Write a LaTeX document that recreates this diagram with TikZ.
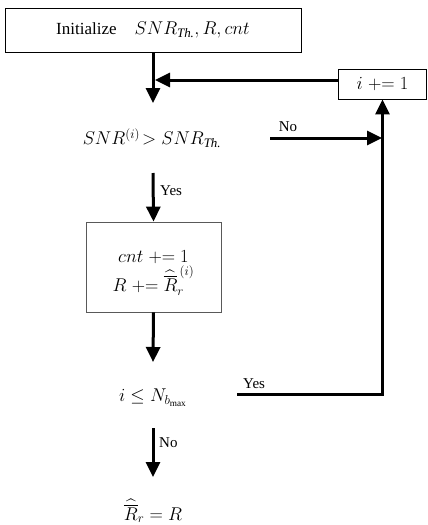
\RequirePackage{fix-cm}
\documentclass[tikz,border=0pt]{standalone}
\usepackage{amsmath}
\usepackage{fontspec}
\setmainfont{Liberation Serif}
\usetikzlibrary{arrows.meta}
\begin{document}
\begin{tikzpicture}[x=1pt,y=-1pt,
  arr/.style={line width=3pt,-{Triangle[width=14pt,length=15pt]}},
  boxnode/.style={draw,line width=0.8pt,inner sep=0pt,font=\fontsize{17}{21}\selectfont},
  txt/.style={inner sep=0pt,font=\fontsize{18.5}{22}\selectfont},
  lbl/.style={inner sep=0pt,font=\fontsize{15}{18}\selectfont}]
\useasboundingbox (0,0) rectangle (428,525);
\node[boxnode,minimum width=296pt,minimum height=44pt] (init) at (153,30) {Initialize\hspace{18pt}{\fontsize{18.5}{22}\selectfont$SNR_{\textit{Th.}}, R, cnt$}};
\node[boxnode,minimum width=88pt,minimum height=30pt,font=\fontsize{18.5}{22}\selectfont] (inc) at (382.5,84) {$i\mathrel{+}=1$};
\node[txt] (cond1) at (152,138) {$SNR^{(i)}\!>SNR_{\textit{Th.}}$};
\node[boxnode,draw=black!65,minimum width=135pt,minimum height=90pt] (upd) at (153.5,267) {};
\node[txt,align=center] (updtxt) at ([yshift=-6pt]upd.center)
  {$cnt\mathrel{+}=1$\\[1pt] $R\mathrel{+}=\widehat{\overline{R}}_r^{\,(i)}$};
\node[txt] (cond2) at (153,398) {$i\leq N_{b_{\max}}$};
\node[txt] (final) at (153,511) {$\widehat{\overline{R}}_r=R$};
% connectors
\coordinate (t1) at (153,103);
\draw[arr] (init.south) -- (t1);
\coordinate (j1) at (155,80);
\draw[arr] ([yshift=4pt]inc.west) -- (j1);
\coordinate (n1s) at (270,138);
\coordinate (n1e) at (382,138);
\draw[arr] (n1s) -- (n1e);
\node[lbl] (lno1) at (288,127) {No};
\coordinate (y1s) at (153,173);
\draw[arr] (y1s) -- (upd.north);
\node[lbl,anchor=west] (lyes1) at (160,191) {Yes};
\coordinate (t2) at (153,362);
\draw[arr] (upd.south) -- (t2);
\coordinate (y2s) at (237,394);
\coordinate (y2c) at (382.5,394);
\draw[arr,line join=miter] (y2s) -- (y2c) -- (inc.south);
\node[lbl,anchor=west] (lyes2) at (243,384) {Yes};
\coordinate (n2s) at (153,428);
\coordinate (n2e) at (153,477);
\draw[arr] (n2s) -- (n2e);
\node[lbl,anchor=west] (lno2) at (159,443) {No};
\end{tikzpicture}
\end{document}
